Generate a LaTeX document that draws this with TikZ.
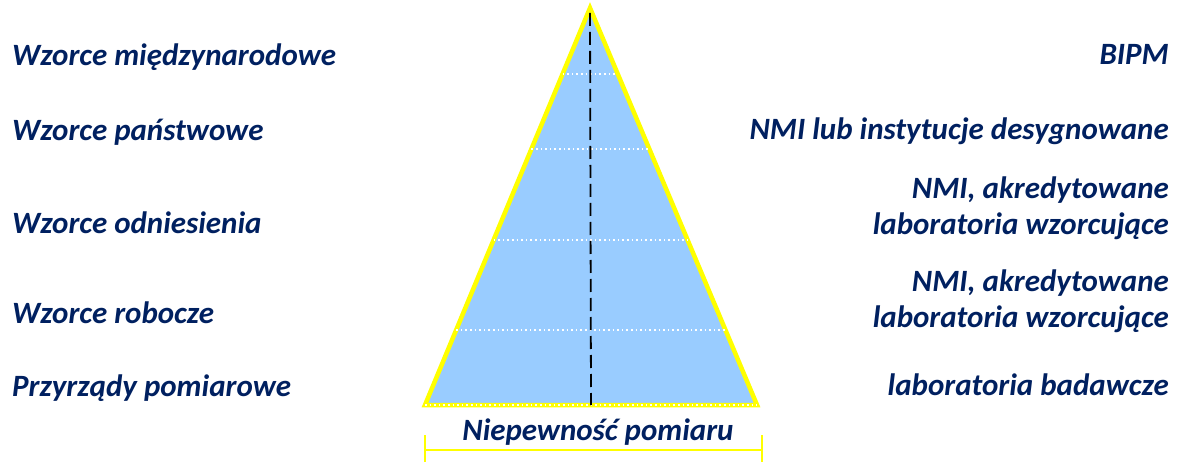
\documentclass[tikz,border=0pt]{standalone}
\usepackage{fontspec}
\setmainfont{Carlito}
\usetikzlibrary{positioning, calc}
\definecolor{navy}{HTML}{002060}
\definecolor{pyramidblue}{HTML}{99CCFF}
\definecolor{rimyellow}{HTML}{FFFF00}

\begin{document}
\begin{tikzpicture}[
    x=1pt, y=-1pt,
    tag/.style={font=\fontsize{31}{36}\selectfont\bfseries\itshape, text=navy, inner sep=0pt},
    lefttag/.style={tag, anchor=base west},
    righttag/.style={tag, anchor=base east, align=right},
    divider/.style={white, line width=1.6pt, dash pattern=on 1.6pt off 3pt},
    axis/.style={black, line width=1.8pt, dash pattern=on 13pt off 6pt}
]
\useasboundingbox (0,0) rectangle (1177,462);

% Pyramid
\coordinate (apex) at (590,8);
\coordinate (bl) at (425,405);
\coordinate (br) at (757,405);
\filldraw[fill=pyramidblue, draw=rimyellow, line width=4.5pt] (apex) -- (br) -- (bl) -- cycle;

% Levels
\foreach \y in {74,149,240,330} {
  \pgfmathsetmacro{\t}{(\y-8)/397}
  \draw[divider] ($(apex)!\t!(bl)$) -- ($(apex)!\t!(br)$);
}
\draw[divider] (bl) -- (br);
\draw[axis] ($(apex)+(0,5)$) -- ($(bl)!0.5!(br)$);

% Standards
\node (intl) [lefttag] at (12,66) {Wzorce międzynarodowe};
\node (natl) [lefttag] at (12,141) {Wzorce państwowe};
\node (ref) [lefttag] at (12,234) {Wzorce odniesienia};
\node (work) [lefttag] at (12,323) {Wzorce robocze};
\node (instr) [lefttag] at (12,396) {Przyrządy pomiarowe};

% Institutions (base = last line)
\node (bipm) [righttag] at (1169,65) {BIPM};
\node (nmi) [righttag] at (1169,140) {NMI lub instytucje desygnowane};
\node (calA) [righttag] at (1169,235) {NMI, akredytowane\\laboratoria wzorcujące};
\node (calB) [righttag] at (1169,327) {NMI, akredytowane\\laboratoria wzorcujące};
\node (test) [righttag] at (1169,395) {laboratoria badawcze};

% Uncertainty
\node (unc) [tag, anchor=base] at (598,440) {Niepewność pomiaru};
\coordinate (ul) at (425,450);
\coordinate (ur) at (762,450);
\draw[rimyellow, line width=2pt] (ul) -- (ur);
\draw[rimyellow, line width=2pt] ($(ul)+(0,-15)$) -- ($(ul)+(0,12)$);
\draw[rimyellow, line width=2pt] ($(ur)+(0,-15)$) -- ($(ur)+(0,12)$);

\end{tikzpicture}
\end{document}
